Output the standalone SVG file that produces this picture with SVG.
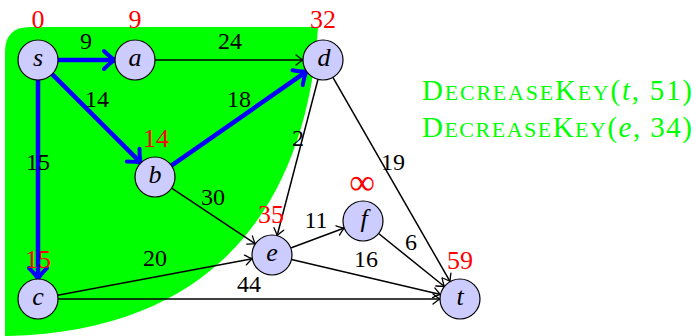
<svg xmlns="http://www.w3.org/2000/svg" width="696" height="336" viewBox="0 0 696 336">
<style>
.nd{fill:#ccccff;stroke:#000;stroke-width:1.2}
.nl{font-family:"Liberation Serif","Times New Roman",serif;font-style:italic;font-size:26px;text-anchor:middle;fill:#000}
.el{font-family:"Liberation Serif","Times New Roman",serif;font-size:24px;text-anchor:middle;fill:#000}
.rl{font-family:"Liberation Serif","Times New Roman",serif;font-size:26px;text-anchor:middle;fill:#ff0000}
.gt{font-family:"Liberation Serif","Times New Roman",serif;fill:#00ff00;font-size:29px}
.blue{stroke:#0000ff;stroke-width:4.5;fill:none;marker-end:url(#ab)}
.blk{stroke:#000;stroke-width:1.5;fill:none;marker-end:url(#ak)}
</style>
<defs>
<marker id="ab" viewBox="-14 -11 18 22" markerWidth="18" markerHeight="22" refX="0" refY="0" orient="auto" markerUnits="userSpaceOnUse" overflow="visible">
<path d="M-11,-9 Q-4,-2 0,0 Q-4,2 -11,9" fill="none" stroke="#0000ff" stroke-width="4" stroke-linecap="round"/>
</marker>
<marker id="ak" viewBox="-10 -7 12 14" markerWidth="12" markerHeight="14" refX="0" refY="0" orient="auto" markerUnits="userSpaceOnUse" overflow="visible">
<path d="M-7,-5 Q-2,-1 0,0 Q-2,1 -7,5" fill="none" stroke="#000" stroke-width="1.3" stroke-linecap="round"/>
</marker>
</defs>
<path id="region" d="M5,336 L5,52 Q5,27 30,27 L318,27 C310,160 250,330 8,336 Z" fill="#00ff00"/>
<g id="connectors">
<line class="blk" x1="155" y1="60" x2="303" y2="60"/>
<line class="blk" x1="318" y1="79.3" x2="277.1" y2="235.7"/>
<line class="blk" x1="332.9" y1="77.4" x2="450.1" y2="281.6"/>
<line class="blk" x1="171.6" y1="188.1" x2="255.4" y2="243.9"/>
<line class="blk" x1="57.7" y1="295.3" x2="252.3" y2="258.7"/>
<line class="blk" x1="58" y1="299" x2="440" y2="299"/>
<line class="blk" x1="290.7" y1="248" x2="344.3" y2="228"/>
<line class="blk" x1="291.5" y1="259.6" x2="440.5" y2="294.4"/>
<line class="blk" x1="378.6" y1="233.5" x2="444.4" y2="286.5"/>
<line class="blue" x1="58" y1="60" x2="115" y2="60"/>
<line class="blue" x1="52.1" y1="74.1" x2="140.9" y2="162.9"/>
<line class="blue" x1="38" y1="80" x2="38" y2="279"/>
<line class="blue" x1="171.4" y1="165.6" x2="306.6" y2="71.4"/>
<text class="el" x="86" y="49">9</text>
<text class="el" x="230" y="49">24</text>
<text class="el" x="97" y="107">14</text>
<text class="el" x="239" y="107">18</text>
<text class="el" x="298" y="146">2</text>
<text class="el" x="38" y="170">15</text>
<text class="el" x="213" y="205">30</text>
<text class="el" x="155" y="266">20</text>
<text class="el" x="249" y="292" fill="#333">44</text>
<text class="el" x="316" y="228">11</text>
<text class="el" x="366" y="267">16</text>
<text class="el" x="411" y="250">6</text>
<text class="el" x="393" y="170">19</text>
</g>
<g id="node-s"><circle class="nd" cx="38" cy="60" r="20"/><text class="nl" x="38" y="66">s</text><text class="rl" x="38" y="28">0</text></g>
<g id="node-a"><circle class="nd" cx="135" cy="60" r="20"/><text class="nl" x="135" y="66">a</text><text class="rl" x="135" y="28">9</text></g>
<g id="node-d"><circle class="nd" cx="323" cy="60" r="20"/><text class="nl" x="324" y="66">d</text><text class="rl" x="323" y="28">32</text></g>
<g id="node-b"><circle class="nd" cx="155" cy="177" r="20"/><text class="nl" x="155" y="183">b</text><text class="rl" x="156" y="147">14</text></g>
<g id="node-c"><circle class="nd" cx="38" cy="299" r="20"/><text class="nl" x="38" y="305">c</text><text class="rl" x="38" y="268">15</text></g>
<g id="node-e"><circle class="nd" cx="272" cy="255" r="20"/><text class="nl" x="272" y="261">e</text><text class="rl" x="271" y="223">35</text></g>
<g id="node-f"><circle class="nd" cx="363" cy="221" r="20"/><text class="nl" x="364" y="227">f</text><text class="rl" x="362" y="194" style="font-size:36px">∞</text></g>
<g id="node-t"><circle class="nd" cx="460" cy="299" r="20"/><text class="nl" x="460" y="305">t</text><text class="rl" x="460" y="269">59</text></g>
<g id="ops">
<text class="gt" x="422" y="100" textLength="270" lengthAdjust="spacing">D<tspan font-size="22">ECREASE</tspan>K<tspan font-size="22">EY</tspan>(<tspan font-style="italic">t</tspan>, 51)</text>
<text class="gt" x="422" y="137" textLength="270" lengthAdjust="spacing">D<tspan font-size="22">ECREASE</tspan>K<tspan font-size="22">EY</tspan>(<tspan font-style="italic">e</tspan>, 34)</text>
</g>
</svg>
